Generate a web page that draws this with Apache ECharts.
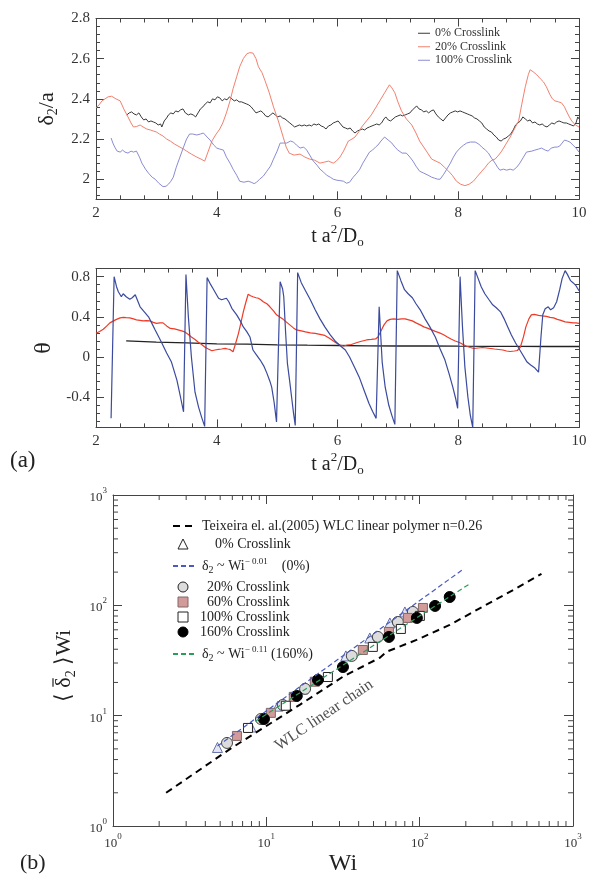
<!DOCTYPE html>
<html><head><meta charset="utf-8">
<script src="https://cdn.jsdelivr.net/npm/echarts@6/dist/echarts.min.js"></script>
<style>html,body{margin:0;padding:0;background:#fff}#c{width:602px;height:888px}</style>
</head><body><div id="c"></div>
<script>
const FONT = 'Liberation Serif';
const AXC = '#444';

// ---------------- Panel (a) upper: delta2/a ----------------
const timeTicks = [2, 4, 6, 8, 10];
const deltaTicks = [2.0, 2.2, 2.4, 2.6, 2.8];
const thetaTicks = [-0.4, 0, 0.4, 0.8];

const delta0 = [[2.51,2.32],[2.55,2.33],[2.59,2.335],[2.63,2.325],[2.67,2.32],[2.71,2.33],[2.75,2.31],[2.79,2.295],[2.83,2.30],[2.87,2.285],[2.91,2.29],[2.95,2.285],[2.99,2.28],[3.03,2.27],[3.07,2.275],[3.09,2.26],[3.13,2.29],[3.17,2.305],[3.2,2.32],[3.24,2.33],[3.28,2.325],[3.32,2.34],[3.36,2.335],[3.40,2.345],[3.44,2.35],[3.48,2.33],[3.53,2.32],[3.57,2.325],[3.61,2.32],[3.65,2.31],[3.69,2.33],[3.73,2.35],[3.77,2.36],[3.81,2.375],[3.85,2.385],[3.89,2.38],[3.93,2.40],[3.97,2.395],[4.01,2.41],[4.05,2.405],[4.09,2.39],[4.13,2.40],[4.17,2.395],[4.21,2.41],[4.25,2.40],[4.29,2.39],[4.33,2.395],[4.37,2.385],[4.41,2.385],[4.45,2.38],[4.49,2.375],[4.53,2.37],[4.57,2.36],[4.61,2.345],[4.65,2.33],[4.69,2.335],[4.73,2.34],[4.77,2.33],[4.81,2.315],[4.85,2.31],[4.89,2.32],[4.93,2.33],[4.97,2.32],[5.01,2.31],[5.05,2.315],[5.09,2.305],[5.13,2.30],[5.17,2.29],[5.21,2.28],[5.25,2.27],[5.29,2.26],[5.33,2.265],[5.37,2.27],[5.41,2.265],[5.45,2.27],[5.49,2.265],[5.53,2.27],[5.57,2.265],[5.61,2.275],[5.65,2.27],[5.69,2.275],[5.73,2.265],[5.77,2.26],[5.81,2.25],[5.85,2.265],[5.89,2.27],[5.93,2.28],[5.97,2.285],[6.01,2.29],[6.05,2.275],[6.09,2.26],[6.13,2.255],[6.17,2.25],[6.21,2.255],[6.25,2.24],[6.29,2.23],[6.33,2.24],[6.37,2.245],[6.41,2.25],[6.45,2.245],[6.49,2.255],[6.53,2.26],[6.57,2.265],[6.61,2.27],[6.65,2.275],[6.69,2.27],[6.73,2.28],[6.77,2.30],[6.80,2.31],[6.84,2.295],[6.88,2.29],[6.92,2.30],[6.96,2.31],[7.00,2.315],[7.04,2.32],[7.08,2.315],[7.12,2.32],[7.16,2.325],[7.20,2.33],[7.24,2.345],[7.28,2.355],[7.31,2.365],[7.35,2.35],[7.39,2.345],[7.43,2.335],[7.47,2.34],[7.51,2.33],[7.55,2.34],[7.59,2.345],[7.63,2.325],[7.67,2.31],[7.71,2.30],[7.75,2.29],[7.79,2.305],[7.83,2.32],[7.87,2.33],[7.91,2.335],[7.95,2.34],[7.99,2.335],[8.03,2.34],[8.07,2.335],[8.11,2.33],[8.15,2.325],[8.19,2.32],[8.23,2.315],[8.27,2.305],[8.31,2.30],[8.35,2.29],[8.39,2.28],[8.43,2.26],[8.47,2.25],[8.51,2.24],[8.55,2.235],[8.59,2.22],[8.63,2.21],[8.67,2.195],[8.71,2.19],[8.75,2.20],[8.79,2.205],[8.83,2.215],[8.87,2.225],[8.91,2.245],[8.95,2.27],[8.99,2.28],[9.03,2.29],[9.07,2.31],[9.11,2.30],[9.15,2.29],[9.19,2.295],[9.23,2.28],[9.27,2.285],[9.31,2.275],[9.35,2.27],[9.39,2.275],[9.43,2.265],[9.47,2.26],[9.51,2.27],[9.55,2.28],[9.59,2.275],[9.63,2.285],[9.67,2.29],[9.71,2.285],[9.75,2.28],[9.79,2.28],[9.83,2.275],[9.87,2.27],[9.91,2.265],[9.95,2.28],[9.98,2.31],[10.0,2.30]];

const delta20 = [[2.0,2.355],[2.05,2.37],[2.1,2.39],[2.15,2.40],[2.2,2.41],[2.26,2.413],[2.33,2.40],[2.4,2.39],[2.46,2.35],[2.53,2.31],[2.58,2.28],[2.62,2.26],[2.67,2.262],[2.73,2.27],[2.78,2.26],[2.84,2.25],[2.9,2.245],[2.95,2.24],[3.0,2.235],[3.05,2.225],[3.11,2.215],[3.17,2.20],[3.23,2.19],[3.3,2.175],[3.39,2.16],[3.45,2.15],[3.5,2.14],[3.58,2.125],[3.67,2.11],[3.74,2.10],[3.8,2.09],[3.86,2.14],[3.92,2.19],[3.98,2.22],[4.05,2.25],[4.1,2.28],[4.16,2.33],[4.22,2.39],[4.27,2.45],[4.33,2.51],[4.38,2.56],[4.44,2.60],[4.5,2.625],[4.55,2.63],[4.6,2.628],[4.65,2.60],[4.69,2.56],[4.75,2.53],[4.8,2.49],[4.87,2.43],[4.94,2.36],[5.02,2.29],[5.1,2.21],[5.15,2.16],[5.2,2.13],[5.28,2.12],[5.38,2.125],[5.46,2.11],[5.54,2.10],[5.62,2.095],[5.71,2.08],[5.78,2.085],[5.85,2.09],[5.93,2.08],[5.98,2.09],[6.04,2.11],[6.1,2.14],[6.18,2.19],[6.24,2.20],[6.29,2.21],[6.35,2.235],[6.4,2.26],[6.48,2.29],[6.56,2.32],[6.63,2.355],[6.7,2.39],[6.78,2.43],[6.86,2.47],[6.9,2.455],[6.95,2.43],[7.0,2.385],[7.06,2.34],[7.14,2.30],[7.23,2.27],[7.3,2.23],[7.36,2.19],[7.45,2.15],[7.56,2.10],[7.63,2.09],[7.7,2.08],[7.77,2.06],[7.84,2.04],[7.9,2.02],[7.97,1.99],[8.04,1.975],[8.11,1.968],[8.18,1.975],[8.25,1.99],[8.32,2.015],[8.39,2.04],[8.45,2.06],[8.5,2.08],[8.56,2.095],[8.61,2.10],[8.67,2.12],[8.72,2.14],[8.79,2.175],[8.86,2.21],[8.93,2.25],[9.0,2.29],[9.05,2.37],[9.11,2.46],[9.16,2.52],[9.19,2.545],[9.24,2.535],[9.3,2.52],[9.36,2.50],[9.41,2.485],[9.46,2.46],[9.52,2.42],[9.56,2.40],[9.6,2.39],[9.66,2.385],[9.71,2.38],[9.76,2.36],[9.79,2.34],[9.84,2.31],[9.88,2.29],[9.94,2.27],[10.0,2.26]];

const delta100 = [[2.25,2.205],[2.28,2.18],[2.31,2.16],[2.35,2.14],[2.4,2.135],[2.44,2.145],[2.48,2.135],[2.53,2.13],[2.58,2.14],[2.62,2.135],[2.67,2.14],[2.72,2.11],[2.76,2.08],[2.82,2.05],[2.87,2.03],[2.93,2.01],[2.98,2.00],[3.04,1.98],[3.11,1.963],[3.16,1.965],[3.2,1.975],[3.24,1.99],[3.28,2.01],[3.33,2.06],[3.39,2.11],[3.45,2.16],[3.5,2.20],[3.55,2.225],[3.6,2.225],[3.67,2.22],[3.73,2.225],[3.78,2.23],[3.84,2.21],[3.89,2.195],[3.95,2.17],[4.0,2.155],[4.05,2.15],[4.11,2.145],[4.16,2.11],[4.22,2.08],[4.27,2.05],[4.33,2.02],[4.38,1.99],[4.45,1.985],[4.52,1.99],[4.57,1.985],[4.62,1.978],[4.66,1.985],[4.71,2.00],[4.77,2.015],[4.83,2.04],[4.89,2.065],[4.94,2.10],[5.0,2.14],[5.05,2.18],[5.1,2.18],[5.16,2.18],[5.22,2.19],[5.27,2.185],[5.32,2.17],[5.38,2.155],[5.44,2.16],[5.49,2.145],[5.54,2.12],[5.6,2.09],[5.66,2.07],[5.71,2.05],[5.77,2.035],[5.82,2.02],[5.88,2.01],[5.93,2.00],[5.99,1.995],[6.04,1.993],[6.1,1.99],[6.15,1.98],[6.2,1.985],[6.26,2.01],[6.32,2.03],[6.37,2.05],[6.42,2.08],[6.48,2.11],[6.53,2.135],[6.58,2.145],[6.63,2.16],[6.67,2.17],[6.72,2.19],[6.78,2.21],[6.84,2.195],[6.9,2.18],[6.95,2.16],[7.0,2.145],[7.07,2.13],[7.14,2.13],[7.2,2.11],[7.25,2.09],[7.3,2.065],[7.36,2.04],[7.43,2.03],[7.5,2.02],[7.56,2.01],[7.61,2.005],[7.66,2.0],[7.7,2.0],[7.76,2.025],[7.81,2.05],[7.87,2.08],[7.92,2.11],[7.97,2.135],[8.03,2.155],[8.09,2.17],[8.14,2.18],[8.2,2.185],[8.28,2.185],[8.34,2.175],[8.39,2.16],[8.45,2.145],[8.5,2.13],[8.55,2.105],[8.61,2.08],[8.65,2.06],[8.69,2.045],[8.75,2.05],[8.8,2.045],[8.86,2.05],[8.91,2.045],[8.97,2.06],[9.02,2.08],[9.08,2.11],[9.13,2.135],[9.16,2.14],[9.22,2.14],[9.27,2.145],[9.33,2.15],[9.38,2.155],[9.44,2.145],[9.49,2.14],[9.54,2.155],[9.6,2.16],[9.64,2.16],[9.68,2.165],[9.72,2.18],[9.76,2.195],[9.81,2.19],[9.85,2.185],[9.9,2.17],[9.95,2.155],[10.0,2.135]];

// ---------------- Panel (a) lower: theta ----------------
const theta0 = [[2.5,0.16],[3.0,0.148],[3.5,0.14],[4.0,0.132],[4.5,0.128],[5.0,0.122],[5.5,0.118],[6.0,0.115],[6.5,0.112],[7.0,0.11],[7.5,0.11],[8.0,0.108],[8.5,0.107],[9.0,0.106],[9.5,0.105],[10.0,0.105]];

const theta20 = [[2.0,0.236],[2.06,0.255],[2.12,0.276],[2.18,0.31],[2.23,0.34],[2.29,0.36],[2.34,0.375],[2.4,0.39],[2.45,0.395],[2.5,0.392],[2.56,0.39],[2.62,0.38],[2.67,0.37],[2.73,0.365],[2.78,0.36],[2.84,0.362],[2.89,0.36],[2.95,0.345],[3.0,0.335],[3.06,0.34],[3.11,0.34],[3.17,0.31],[3.23,0.285],[3.3,0.28],[3.36,0.27],[3.42,0.26],[3.47,0.25],[3.53,0.225],[3.58,0.20],[3.64,0.175],[3.69,0.15],[3.75,0.125],[3.8,0.10],[3.86,0.08],[3.92,0.063],[3.97,0.07],[4.03,0.076],[4.08,0.08],[4.14,0.086],[4.18,0.08],[4.22,0.076],[4.27,0.053],[4.31,0.13],[4.36,0.236],[4.4,0.34],[4.44,0.45],[4.48,0.54],[4.52,0.625],[4.56,0.61],[4.6,0.60],[4.65,0.59],[4.69,0.585],[4.73,0.57],[4.77,0.55],[4.83,0.53],[4.88,0.50],[4.94,0.46],[4.99,0.42],[5.05,0.395],[5.1,0.375],[5.16,0.345],[5.21,0.32],[5.27,0.29],[5.32,0.27],[5.4,0.26],[5.47,0.25],[5.55,0.24],[5.63,0.235],[5.71,0.225],[5.79,0.215],[5.86,0.19],[5.92,0.165],[5.98,0.14],[6.04,0.12],[6.1,0.11],[6.16,0.12],[6.23,0.125],[6.3,0.14],[6.38,0.155],[6.48,0.17],[6.56,0.175],[6.63,0.18],[6.67,0.20],[6.72,0.26],[6.77,0.32],[6.82,0.36],[6.87,0.375],[6.93,0.38],[7.0,0.375],[7.06,0.38],[7.12,0.38],[7.18,0.37],[7.24,0.36],[7.3,0.34],[7.37,0.32],[7.43,0.30],[7.5,0.285],[7.56,0.27],[7.62,0.255],[7.69,0.24],[7.75,0.225],[7.82,0.2],[7.88,0.18],[7.95,0.16],[8.02,0.145],[8.08,0.125],[8.13,0.11],[8.2,0.095],[8.26,0.085],[8.33,0.09],[8.4,0.095],[8.47,0.09],[8.54,0.085],[8.6,0.08],[8.67,0.075],[8.74,0.07],[8.8,0.06],[8.86,0.055],[8.93,0.06],[8.98,0.065],[9.03,0.1],[9.08,0.2],[9.12,0.3],[9.17,0.38],[9.21,0.42],[9.26,0.425],[9.33,0.415],[9.39,0.41],[9.46,0.405],[9.52,0.395],[9.58,0.39],[9.64,0.375],[9.7,0.365],[9.77,0.35],[9.84,0.345],[9.9,0.34],[9.95,0.34],[10.0,0.335]];

const theta100 = [[2.25,-0.61],[2.30,0.80],[2.34,0.70],[2.37,0.65],[2.42,0.60],[2.45,0.63],[2.5,0.60],[2.56,0.575],[2.6,0.59],[2.65,0.62],[2.73,0.50],[2.8,0.45],[2.87,0.40],[2.93,0.33],[2.98,0.27],[3.04,0.20],[3.09,0.14],[3.17,0.04],[3.25,-0.05],[3.34,-0.23],[3.4,-0.40],[3.45,-0.545],[3.49,0.82],[3.53,0.40],[3.58,0.0],[3.64,-0.35],[3.7,-0.50],[3.75,-0.60],[3.8,-0.69],[3.84,0.79],[3.9,0.72],[3.94,0.68],[4.03,0.585],[4.08,0.57],[4.11,0.57],[4.16,0.585],[4.2,0.55],[4.25,0.485],[4.33,0.42],[4.39,0.36],[4.44,0.30],[4.5,0.25],[4.55,0.20],[4.6,0.07],[4.66,0.02],[4.72,-0.03],[4.78,-0.09],[4.83,-0.16],[4.88,-0.24],[4.91,-0.30],[4.95,-0.45],[4.99,-0.645],[5.05,0.75],[5.09,0.68],[5.11,0.60],[5.14,0.25],[5.17,-0.06],[5.21,-0.25],[5.24,-0.40],[5.27,-0.55],[5.30,-0.68],[5.34,0.84],[5.4,0.74],[5.47,0.66],[5.55,0.57],[5.63,0.47],[5.71,0.38],[5.79,0.30],[5.88,0.22],[5.96,0.16],[6.05,0.11],[6.13,0.07],[6.2,0.0],[6.28,-0.10],[6.36,-0.20],[6.44,-0.33],[6.52,-0.46],[6.58,-0.54],[6.64,-0.61],[6.69,0.50],[6.74,-0.05],[6.79,-0.30],[6.85,-0.48],[6.9,-0.58],[6.95,-0.67],[6.99,0.86],[7.05,0.76],[7.11,0.67],[7.17,0.63],[7.24,0.59],[7.3,0.53],[7.37,0.47],[7.45,0.38],[7.53,0.30],[7.62,0.20],[7.7,0.08],[7.78,-0.03],[7.85,-0.17],[7.91,-0.30],[7.96,-0.42],[7.99,-0.51],[8.03,0.80],[8.07,0.30],[8.11,-0.10],[8.16,-0.40],[8.2,-0.58],[8.24,-0.70],[8.28,0.86],[8.33,0.78],[8.38,0.70],[8.44,0.63],[8.51,0.57],[8.57,0.52],[8.63,0.49],[8.7,0.45],[8.76,0.38],[8.82,0.30],[8.88,0.22],[8.95,0.14],[9.0,0.09],[9.05,0.04],[9.14,-0.05],[9.2,-0.08],[9.27,-0.11],[9.33,-0.15],[9.37,0.20],[9.4,0.42],[9.44,0.48],[9.49,0.50],[9.53,0.47],[9.58,0.49],[9.63,0.55],[9.68,0.67],[9.72,0.78],[9.77,0.86],[9.81,0.82],[9.86,0.76],[9.9,0.74],[9.95,0.71],[10.0,0.66]];

// ---------------- Panel (b): <delta2>Wi vs Wi (log-log) ----------------
const logMajor = [1, 10, 100, 1000];
const wlcLine = [[2.22,2.0],[5.94,5.1],[16.6,12.6],[31.7,22.6],[55,33.5],[61,38],[95.4,48.6],[157,66.4],[258,97.3],[428,143],[623,193]];
const cl0 = [[4.80,5.15],[7.94,7.9],[11.9,12.2],[17.3,17.5],[33.0,34.8],[47.3,50.6],[63.9,69.2],[80.1,87.1]];
const cl20 = [[5.54,5.66],[9.22,9.33],[12.8,12.5],[17.9,17.5],[36.1,34.8],[53.4,51.7],[72.1,70.7],[90.3,87.1]];
const cl60 = [[6.43,6.55],[10.7,10.6],[15.1,14.8],[20.7,20.3],[42.6,39.4],[63.0,57.4],[83.8,76.9],[105,94.7]];
const cl100 = [[7.59,7.74],[13.4,12.3],[25.2,22.4],[49.5,42.0],[75.4,61.1],[100.3,80.2]];
const cl160 = [[9.65,9.33],[15.8,15.1],[21.7,21.1],[31.6,27.6],[63,51.7],[95.9,76.9],[126,98.8],[157,119]];
const fit0 = [[4.8,5.3],[192,212]];
const fit160 = [[8.5,8.9],[215,158.6]];
const wlcLabelPos = [[23.8,10.1]];

// ---- tick helper lists ----
const deltaMinor = []; for (let k = 48; k <= 70; k++) deltaMinor.push(+(k * 0.04).toFixed(2));
const thetaMinor = []; for (let k = -8; k <= 11; k++) thetaMinor.push(+(k * 0.08).toFixed(2));
const logMinor = []; logMajor.slice(0, 3).forEach(d => { for (let k = 2; k <= 9; k++) logMinor.push(d * k); });

const tickStyle = {color: AXC, width: 1};
const lblStyle = {fontFamily: FONT, fontSize: 15, color: '#333'};

function linX(grid, pos, showLabel, name) {
  const a = {
    type: 'value', gridIndex: grid, position: pos, min: 2, max: 10, interval: 2,
    axisLine: {show: true, onZero: false, lineStyle: tickStyle},
    axisTick: {show: true, inside: true, length: 8, lineStyle: tickStyle},
    minorTick: {show: true, splitNumber: 5, length: 4, lineStyle: tickStyle},
    splitLine: {show: false}, minorSplitLine: {show: false},
    axisLabel: Object.assign({show: showLabel, margin: 6}, lblStyle)
  };
  if (name) {
    a.name = '{n|t a}{sup|2}{n|/D}{sub|o}';
    a.nameLocation = 'middle';
    a.nameGap = 24;
    a.nameTextStyle = {fontFamily: FONT, color: '#222', rich: {
      n: {fontFamily: FONT, fontSize: 20, color: '#222', lineHeight: 26},
      sup: {fontFamily: FONT, fontSize: 13, color: '#222', verticalAlign: 'top', lineHeight: 13},
      sub: {fontFamily: FONT, fontSize: 13, color: '#222', verticalAlign: 'bottom', lineHeight: 12}
    }};
  }
  return a;
}
function linY(grid, pos, min, max, ticks, len, showLabel, line, nameCfg) {
  const a = {
    type: 'value', gridIndex: grid, position: pos, min: min, max: max,
    axisLine: {show: line, onZero: false, lineStyle: tickStyle},
    axisTick: {show: true, inside: true, length: len, customValues: ticks, lineStyle: tickStyle},
    splitLine: {show: false},
    axisLabel: Object.assign({show: showLabel, customValues: ticks, margin: 6}, lblStyle)
  };
  if (nameCfg) Object.assign(a, nameCfg);
  return a;
}
function logAxis(grid, pos, showLabel, nameCfg) {
  const a = {
    type: 'log', logBase: 10, gridIndex: grid, position: pos, min: 1, max: 1000,
    axisLine: {show: true, onZero: false, lineStyle: tickStyle},
    axisTick: {show: true, inside: true, length: 9, lineStyle: tickStyle},
    minorTick: {show: false}, splitLine: {show: false},
    axisLabel: {show: showLabel, margin: 6,
      formatter: v => '{b|10}{s|' + Math.round(Math.log10(v)) + '}',
      rich: {
        b: {fontFamily: FONT, fontSize: 13, color: '#333', lineHeight: 18, verticalAlign: 'bottom'},
        s: {fontFamily: FONT, fontSize: 9, color: '#333', lineHeight: 10, verticalAlign: 'top'}
      }}
  };
  if (nameCfg) Object.assign(a, nameCfg);
  return a;
}

const xAxis = [
  linX(0, 'bottom', true, true),
  linX(0, 'top', false, false),
  linX(1, 'bottom', true, true),
  linX(1, 'top', false, false),
  logAxis(2, 'bottom', true, {
    name: 'Wi', nameLocation: 'middle', nameGap: 26,
    nameTextStyle: {fontFamily: FONT, fontSize: 24, color: '#222'}
  }),
  logAxis(2, 'top', false)
];

const yAxis = [
  linY(0, 'left', 1.9, 2.8, deltaTicks, 8, true, true, {
    name: '{n|δ}{sub|2}{n|/a}', nameLocation: 'middle', nameRotate: 90, nameGap: 32,
    nameTextStyle: {fontFamily: FONT, color: '#222', rich: {
      n: {fontFamily: FONT, fontSize: 22, color: '#222', lineHeight: 26},
      sub: {fontFamily: FONT, fontSize: 14, color: '#222', verticalAlign: 'bottom', lineHeight: 12}
    }}
  }),
  linY(0, 'left', 1.9, 2.8, deltaMinor, 4, false, false),
  linY(0, 'right', 1.9, 2.8, deltaTicks, 8, false, true),
  linY(0, 'right', 1.9, 2.8, deltaMinor, 4, false, false),
  linY(1, 'left', -0.7, 0.88, thetaTicks, 8, true, true, {
    name: 'θ', nameLocation: 'middle', nameRotate: 90, nameGap: 33,
    nameTextStyle: {fontFamily: FONT, fontSize: 24, color: '#222'}
  }),
  linY(1, 'left', -0.7, 0.88, thetaMinor, 4, false, false),
  linY(1, 'right', -0.7, 0.88, thetaTicks, 8, false, true),
  linY(1, 'right', -0.7, 0.88, thetaMinor, 4, false, false),
  logAxis(2, 'left', true),
  logAxis(2, 'right', false)
];

function lineS(name, data, xi, yi, color, width, extra) {
  return Object.assign({
    type: 'line', name: name, data: data, xAxisIndex: xi, yAxisIndex: yi,
    color: color, showSymbol: false, symbol: 'none', animation: false,
    lineStyle: {color: color, width: width}
  }, extra || {});
}
function scatS(name, data, symbol, size, fill, border) {
  return {
    type: 'scatter', name: name, data: data, xAxisIndex: 4, yAxisIndex: 8,
    symbol: symbol, symbolSize: size, animation: false,
    itemStyle: {color: fill, borderColor: border, borderWidth: 1, opacity: 1}
  };
}

const series = [
  lineS('0% Crosslink', delta0, 0, 0, '#383838', 1),
  lineS('20% Crosslink', delta20, 0, 0, '#f3806e', 1),
  lineS('100% Crosslink', delta100, 0, 0, '#8a8cd2', 1),
  lineS('th0', theta0, 2, 4, '#222222', 1.3),
  lineS('th20', theta20, 2, 4, '#ee3a26', 1.2),
  lineS('th100', theta100, 2, 4, '#3a4a9e', 1.2),
  lineS('wlc', wlcLine, 4, 8, '#000000', 2, {lineStyle: {color: '#000', width: 2, type: [7, 5]}}),
  scatS('b0', cl0, 'triangle', 10, '#e4e7f2', '#6470a8'),
  scatS('b20', cl20, 'circle', 11, '#dcdcdc', '#444'),
  scatS('b60', cl60, 'rect', 9, '#d39a9a', '#806868'),
  scatS('b100', cl100, 'rect', 9, '#ffffff', '#222'),
  scatS('b160', cl160, 'circle', 11, '#000000', '#000'),
  lineS('fit0', fit0, 4, 8, '#4a5abf', 1.2, {lineStyle: {color: '#4a5abf', width: 1.2, type: [5, 3]}}),
  lineS('fit160', fit160, 4, 8, '#2c9c5c', 1.2, {lineStyle: {color: '#2c9c5c', width: 1.2, type: [5, 3]}}),
  {
    type: 'scatter', name: 'wlcLabel', data: wlcLabelPos, xAxisIndex: 4, yAxisIndex: 8,
    symbolSize: 1, itemStyle: {color: 'rgba(0,0,0,0)'}, silent: true, animation: false,
    label: {show: true, position: 'inside', rotate: 34, formatter: 'WLC linear chain',
      fontFamily: FONT, fontSize: 16, color: '#222'}
  },
  {
    type: 'custom', xAxisIndex: 4, yAxisIndex: 8, silent: true, clip: false, animation: false,
    data: logMinor.map(v => [v, 1]),
    renderItem: (p, api) => {
      const v = api.value(0);
      const b = api.coord([v, 1]), t = api.coord([v, 1000]);
      const st = {stroke: AXC, lineWidth: 1};
      return {type: 'group', children: [
        {type: 'line', shape: {x1: b[0], y1: b[1], x2: b[0], y2: b[1] - 5}, style: st},
        {type: 'line', shape: {x1: t[0], y1: t[1], x2: t[0], y2: t[1] + 5}, style: st}
      ]};
    }
  },
  {
    type: 'custom', xAxisIndex: 4, yAxisIndex: 8, silent: true, clip: false, animation: false,
    data: logMinor.map(v => [1, v]),
    renderItem: (p, api) => {
      const v = api.value(1);
      const l = api.coord([1, v]), r = api.coord([1000, v]);
      const st = {stroke: AXC, lineWidth: 1};
      return {type: 'group', children: [
        {type: 'line', shape: {x1: l[0], y1: l[1], x2: l[0] + 5, y2: l[1]}, style: st},
        {type: 'line', shape: {x1: r[0], y1: r[1], x2: r[0] - 5, y2: r[1]}, style: st}
      ]};
    }
  }
];

const legRich = {
  n: {fontFamily: FONT, fontSize: 14, color: '#222', lineHeight: 18},
  sub: {fontFamily: FONT, fontSize: 10, color: '#222', verticalAlign: 'bottom', lineHeight: 10},
  sup: {fontFamily: FONT, fontSize: 9, color: '#222', verticalAlign: 'top', lineHeight: 9},
  g: {fontFamily: FONT, fontSize: 14, width: 14, lineHeight: 18}
};
const legText = {
  wlc: '{n|Teixeira el. al.(2005) WLC linear polymer n=0.26}',
  b0: '{n|0% Crosslink}',
  fit0: '{n|δ}{sub|2}{n| ~ Wi}{sup|− 0.01}{g| }{n|(0%)}',
  b20: '{n|20% Crosslink}',
  b60: '{n|60% Crosslink}',
  b100: '{n|100% Crosslink}',
  b160: '{n|160% Crosslink}',
  fit160: '{n|δ}{sub|2}{n| ~ Wi}{sup|− 0.11}{n| (160%)}'
};
const legRows = [
  {name: 'wlc', top: 519, line: true, pad: 3},
  {name: 'b0', top: 537, icon: 'triangle', fill: '#fff', border: '#222', pad: 22},
  {name: 'fit0', top: 557, line: true, pad: 3},
  {name: 'b20', top: 580, icon: 'circle', fill: '#dcdcdc', border: '#222', pad: 14},
  {name: 'b60', top: 595, icon: 'rect', fill: '#d39a9a', border: '#806868', pad: 14},
  {name: 'b100', top: 610, icon: 'rect', fill: '#fff', border: '#222', pad: 7},
  {name: 'b160', top: 625, icon: 'circle', fill: '#000', border: '#000', pad: 7},
  {name: 'fit160', top: 645, line: true, pad: 3}
];
const legends = [{
  data: ['0% Crosslink', '20% Crosslink', '100% Crosslink'],
  orient: 'vertical', left: 418, top: 27, padding: 0, itemGap: 1,
  icon: 'rect', itemWidth: 12, itemHeight: 1, selectedMode: false,
  textStyle: {fontFamily: FONT, fontSize: 12, color: '#333', lineHeight: 12.5}
}];
legRows.forEach(r => {
  const item = r.line ?
    {name: r.name, itemStyle: {color: 'rgba(0,0,0,0)', borderColor: 'rgba(0,0,0,0)', borderWidth: 0}} :
    {name: r.name, icon: r.icon, itemStyle: {color: r.fill, borderColor: r.border, borderWidth: 1}};
  legends.push({
    data: [item], left: r.line ? 172 : 177.5, top: r.top, padding: 0,
    itemWidth: r.line ? 21 : 10, itemHeight: 10, selectedMode: false,
    formatter: n => legText[n],
    textStyle: {fontFamily: FONT, fontSize: 14, color: '#222', padding: [0, 0, 0, r.pad], rich: legRich}
  });
});

// ---- y title of panel (b): < delta-bar_2 > Wi, built from text pieces (overbar on delta) ----
const mctx = document.createElement('canvas').getContext('2d');
function tw(t, f) { mctx.font = f; return mctx.measureText(t).width; }
const F22 = '22px "Liberation Serif"', F14 = '14px "Liberation Serif"';
const yTitleParts = [['⟨ ', F22, 0], ['δ', F22, 0], ['2', F14, 7], [' ⟩Wi', F22, 0]];
let yTitleW = 0; yTitleParts.forEach(p => { yTitleW += tw(p[0], p[1]); });
const yTitleChildren = [];
let cx = -yTitleW / 2;
yTitleParts.forEach((p, i) => {
  const w = tw(p[0], p[1]);
  yTitleChildren.push({type: 'text', x: cx, y: p[2], style: {text: p[0], font: p[1], fill: '#222', verticalAlign: 'middle', align: 'left'}});
  if (i === 1) yTitleChildren.push({type: 'line', shape: {x1: cx + 1, y1: -11, x2: cx + w - 1, y2: -11}, style: {stroke: '#222', lineWidth: 1.2}});
  cx += w;
});

const option = {
  backgroundColor: '#fff',
  animation: false,
  grid: [
    {left: 96, top: 18.5, width: 483, height: 180.8, outerBoundsMode: 'none'},
    {left: 96, top: 268.6, width: 483, height: 158.8, outerBoundsMode: 'none'},
    {left: 113, top: 495, width: 460, height: 331, outerBoundsMode: 'none'}
  ],
  xAxis: xAxis,
  yAxis: yAxis,
  legend: legends,
  series: series,
  graphic: [
    {type: 'text', left: 10, top: 449, style: {text: '(a)', font: '23px "Liberation Serif"', fill: '#222'}},
    {type: 'text', left: 20, top: 852, style: {text: '(b)', font: '22px "Liberation Serif"', fill: '#222'}},
    {type: 'group', x: 64, y: 666, rotation: Math.PI / 2, children: yTitleChildren}
  ]
};

const chart = echarts.init(document.getElementById('c'), null, {renderer: 'canvas'});
chart.setOption(option);
</script></body></html>
